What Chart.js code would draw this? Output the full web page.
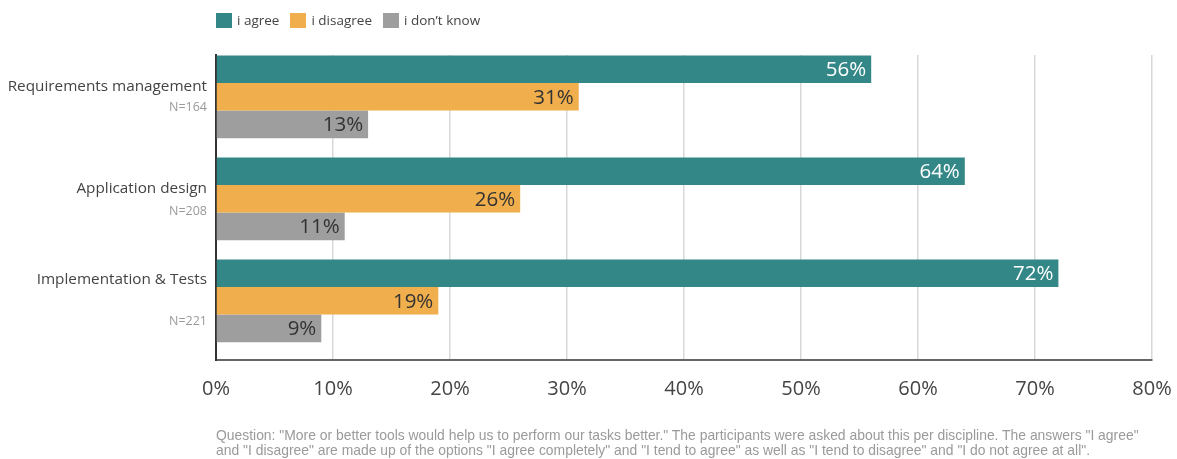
<!DOCTYPE html>
<html lang="en">
<head>
  <meta charset="UTF-8" />
  <title>More or better tools</title>
  <script src="https://cdn.jsdelivr.net/npm/chart.js"></script>
  <style>
    * { box-sizing: border-box; margin: 0; padding: 0; }
    body { background: #fff; width: 1177px; height: 459px; overflow: hidden; position: relative; font-family: 'Open Sans', sans-serif; }
    .wrap { position: absolute; left: 0; top: 0; width: 1177px; height: 459px; }
    .legend { position: absolute; left: 216px; top: 11px; display: flex; align-items: center; font-size: 13.5px; color: #444; }
    .legend span.box { display: inline-block; width: 16px; height: 15px; margin-right: 5px; }
    .legend .item { display: flex; align-items: center; margin-right: 11px; }
    .note { position: absolute; left: 216px; top: 428px; font-family: 'Liberation Sans Narrow', 'Liberation Sans', sans-serif; font-size: 13.9px; line-height: 15px; color: #9a9a9a; white-space: nowrap; }
  </style>
</head>
<body>
<div class="wrap"><canvas id="chart"></canvas></div>
<div class="legend" id="legend"></div>
<div class="note">
  <div>Question: "More or better tools would help us to perform our tasks better." The participants were asked about this per discipline. The answers "I agree"</div>
  <div>and "I disagree" are made up of the options "I agree completely" and "I tend to agree" as well as "I tend to disagree" and "I do not agree at all".</div>
</div>

<script>
  // data
  const categories = ['Requirements management', 'Application design', 'Implementation & Tests'];
  const sampleSizes = ['N=164', 'N=208', 'N=221'];
  const seriesNames = ['i agree', 'i disagree', "i don't know"];
  const agree = [56, 64, 72];
  const disagree = [31, 26, 19];
  const dontKnow = [13, 11, 9];
  const xTicks = [0, 10, 20, 30, 40, 50, 60, 70, 80];

  // styling
  const colors = ['#348787', '#f0ae4c', '#9e9e9e'];
  const labelColors = ['#ffffff', '#333333', '#333333'];
  // vertical nudges (px) of category name / N text relative to group centre
  const nameOffset = [-10, -10, -21];
  const nOffset = [11, 13, 21];

  const legendEl = document.getElementById('legend');
  seriesNames.forEach((name, i) => {
    const item = document.createElement('div');
    item.className = 'item';
    item.innerHTML = '<span class="box" style="background:' + colors[i] + '"></span>' + name.replace("'", '&#8217;');
    legendEl.appendChild(item);
  });

  const toPoints = arr => arr.map((v, i) => ({ x: v, y: i }));

  const labelsPlugin = {
    id: 'labelsPlugin',
    afterDatasetsDraw(chart) {
      const ctx = chart.ctx;
      const yScale = chart.scales.y;
      const left = chart.chartArea.left;
      ctx.save();
      // values inside bar ends
      ctx.font = '20.5px "Open Sans"';
      ctx.textAlign = 'right';
      ctx.textBaseline = 'middle';
      chart.data.datasets.forEach((ds, di) => {
        const meta = chart.getDatasetMeta(di);
        meta.data.forEach((bar, i) => {
          ctx.fillStyle = labelColors[di];
          ctx.fillText(ds.data[i].x + '%', bar.x - 5, bar.y + 1);
        });
      });
      // category names and sample sizes
      categories.forEach((name, i) => {
        const cy = yScale.getPixelForValue(i);
        ctx.font = '15.3px "Open Sans"';
        ctx.fillStyle = '#444';
        ctx.fillText(name, left - 9, cy + nameOffset[i]);
        ctx.font = '12.5px "Open Sans"';
        ctx.fillStyle = '#9a9a9a';
        ctx.fillText(sampleSizes[i], left - 9, cy + nOffset[i]);
      });
      ctx.restore();
    }
  };

  new Chart(document.getElementById('chart'), {
    type: 'bar',
    data: {
      datasets: [
        { label: seriesNames[0], data: toPoints(agree), backgroundColor: colors[0] },
        { label: seriesNames[1], data: toPoints(disagree), backgroundColor: colors[1] },
        { label: seriesNames[2], data: toPoints(dontKnow), backgroundColor: colors[2] }
      ]
    },
    options: {
      indexAxis: 'y',
      responsive: true,
      maintainAspectRatio: false,
      animation: false,
      categoryPercentage: 0.81,
      barPercentage: 1,
      layout: { padding: { left: 216, right: 25, top: 55, bottom: 59 } },
      plugins: { legend: { display: false }, tooltip: { enabled: false } },
      scales: {
        x: {
          type: 'linear',
          min: xTicks[0],
          max: xTicks[xTicks.length - 1],
          afterBuildTicks: scale => { scale.ticks = xTicks.map(v => ({ value: v })); },
          afterFit: scale => { scale.height = 40; scale.paddingLeft = 0; scale.paddingRight = 0; },
          grid: { color: '#d8d8d8', lineWidth: 1.5, drawTicks: false },
          border: { display: true, color: '#666', width: 2 },
          ticks: {
            padding: 17,
            color: '#444',
            font: { family: 'Open Sans', size: 20 },
            callback: v => v + '%'
          }
        },
        y: {
          type: 'linear',
          reverse: true,
          offset: false,
          min: -0.41,
          max: 2.58,
          afterBuildTicks: scale => { scale.ticks = categories.map((c, i) => ({ value: i })); },
          afterFit: scale => { scale.width = 0; },
          grid: { display: false },
          border: { display: true, color: '#333', width: 2 },
          ticks: { display: false }
        }
      }
    },
    plugins: [labelsPlugin]
  });
</script>
</body>
</html>
